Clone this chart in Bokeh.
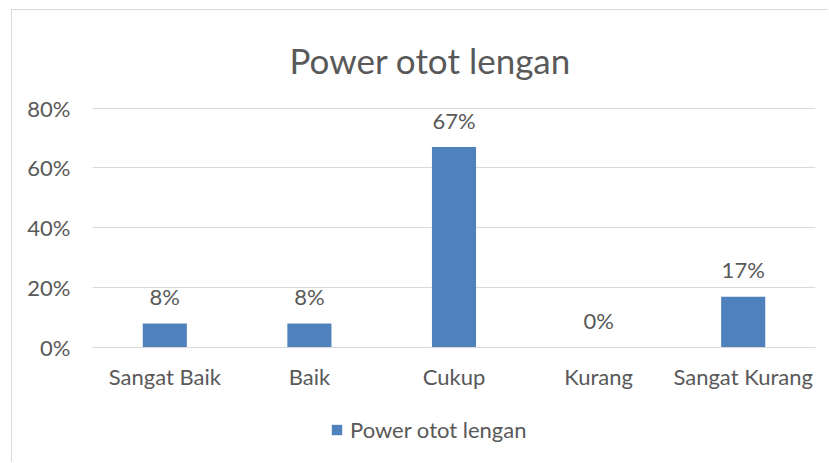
from bokeh.plotting import figure
from bokeh.layouts import column
from bokeh.models import (Range1d, FactorRange, NumeralTickFormatter, FixedTicker, Legend, LegendItem,
                          ColumnDataSource)
from bokeh.core.properties import value
from bokeh.embed import file_html
from bokeh.resources import INLINE

categories = ["Sangat Baik", "Baik", "Cukup", "Kurang", "Sangat Kurang"]
values = [0.08, 0.08, 0.67, 0.0, 0.17]
labels = ["8%", "8%", "67%", "0%", "17%"]
y_ticks = [0, 0.2, 0.4, 0.6, 0.8]
series_name = "Power otot lengan"
chart_title = "Power otot lengan"

FONT = "Lato"
TXT = "#595959"
GRID = "#d9d9d9"
BAR = "#4f81bd"

src = ColumnDataSource(dict(cat=categories, val=values, lab=labels))
xr = FactorRange(*categories, range_padding=0)

p = figure(width=816, height=390, output_backend="svg", toolbar_location=None,
           x_range=xr, y_range=Range1d(0, 0.802),
           min_border_left=80, min_border_right=13, min_border_top=97, min_border_bottom=53)
p.outline_line_color = None
p.background_fill_color = "white"
p.border_fill_color = "white"

p.title.text = chart_title
p.title.text_font = FONT
p.title.text_font_size = "35px"
p.title.text_font_style = "normal"
p.title.text_color = TXT
p.title.align = "left"
p.title.offset = 197
p.title.standoff = 53

p.vbar(x="cat", top="val", width=0.305, source=src, fill_color=BAR, line_color=None)
p.text(x="cat", y="val", text="lab", source=src, text_align="center", text_baseline="middle",
       y_offset=-27, text_font=value(FONT), text_font_size="22px", text_color=TXT)

p.yaxis.ticker = FixedTicker(ticks=y_ticks)
p.yaxis.formatter = NumeralTickFormatter(format="0%")
p.yaxis.axis_line_color = None
p.yaxis.major_tick_line_color = None
p.yaxis.minor_tick_line_color = None
p.yaxis.major_label_standoff = 16
p.yaxis.major_label_text_font = FONT
p.yaxis.major_label_text_font_size = "22px"
p.yaxis.major_label_text_color = TXT

p.xaxis.axis_line_color = GRID
p.xaxis.major_tick_line_color = None
p.xaxis.minor_tick_line_color = None
p.xaxis.major_label_standoff = 9
p.xaxis.major_label_text_font = FONT
p.xaxis.major_label_text_font_size = "22px"
p.xaxis.major_label_text_color = TXT

p.xgrid.grid_line_color = None
p.ygrid.grid_line_color = GRID
p.ygrid.ticker = FixedTicker(ticks=y_ticks)

# legend strip below the chart (same data, bars out of view; only the legend shows)
p2 = figure(width=816, height=62, output_backend="svg", toolbar_location=None,
            x_range=xr, y_range=Range1d(1, 2), x_axis_location=None, y_axis_location=None,
            min_border=0)
p2.outline_line_color = None
p2.grid.grid_line_color = None
p2.border_fill_color = "white"
r2 = p2.vbar(x="cat", top="val", width=0.305, source=src, fill_color=BAR, line_color=None)
legend = Legend(items=[LegendItem(label=series_name, renderers=[r2])], location=(238, 19),
                glyph_width=13, glyph_height=13, label_standoff=7, padding=0, margin=0,
                border_line_color=None, background_fill_alpha=0,
                label_text_font=FONT, label_text_font_size="22px", label_text_color=TXT)
p2.add_layout(legend, "center")

layout = column(p, p2, spacing=0)
layout.margin = (9, 0, 0, 11)
layout.styles = {"border-left": "1.5px solid #d9d9d9", "border-top": "1.5px solid #d9d9d9"}

open("out.html", "w").write(file_html(layout, INLINE))
